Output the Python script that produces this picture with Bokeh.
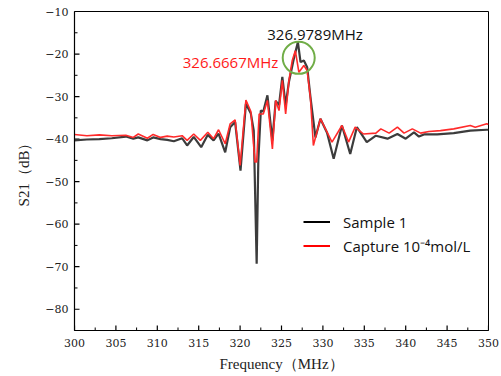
import numpy as np
from bokeh.plotting import figure
from bokeh.models import Range1d, Label, Legend, LegendItem, SingleIntervalTicker, CustomJSTickFormatter
from bokeh.embed import file_html
from bokeh.resources import INLINE

# ---- data ----
freq_sample = [300.0, 301.5, 303.0, 304.5, 306.2, 307.1, 307.7, 308.8, 309.5, 310.4, 311.2, 312.0, 313.0, 313.6,
               314.4, 315.3, 316.1, 316.8, 317.4, 318.2, 318.8, 319.4, 320.05, 320.7, 321.3, 321.65, 322.0, 322.2,
               322.5, 322.8, 323.3, 323.9, 324.3, 324.7, 325.1, 325.5, 325.9, 326.5, 326.98, 327.3, 327.7, 328.1,
               328.5, 329.1, 329.7, 330.5, 331.3, 332.3, 333.3, 334.1, 335.3, 336.4, 337.8, 339.0, 340.0, 341.0,
               341.6, 342.2, 343.8, 345.8, 347.8, 349.8, 350.0]
s21_sample = [-40.3, -40.1, -40.0, -39.8, -39.4, -39.9, -39.6, -40.3, -39.6, -40.0, -40.2, -40.5, -39.8, -41.5,
              -39.5, -41.9, -39.0, -40.3, -38.7, -43.1, -37.2, -36.0, -47.4, -31.7, -34.0, -38.0, -69.3, -45.0,
              -33.3, -33.5, -29.7, -40.3, -31.0, -32.0, -25.4, -32.1, -26.5, -21.0, -17.2, -21.9, -21.5, -23.1,
              -30.2, -39.6, -35.2, -38.5, -44.6, -36.8, -43.5, -37.2, -40.7, -39.2, -39.9, -38.8, -39.9, -38.4,
              -39.4, -38.9, -38.9, -38.6, -38.0, -37.8, -37.8]

freq_capture = [300.0, 301.5, 303.0, 304.5, 306.2, 307.1, 307.7, 308.8, 309.5, 310.4, 311.2, 312.0, 313.0, 313.6,
                314.4, 315.2, 316.1, 316.8, 317.4, 318.2, 318.8, 319.4, 320.0, 320.7, 321.3, 321.8, 322.0, 322.3,
                322.8, 323.3, 323.9, 324.3, 324.7, 325.1, 325.5, 325.9, 326.3, 326.67, 327.1, 327.7, 328.1, 328.5,
                328.85, 329.7, 331.1, 332.3, 333.1, 333.9, 334.9, 336.4, 337.0, 338.0, 339.0, 339.8, 340.8, 341.8,
                342.8, 344.2, 345.8, 347.8, 348.4, 349.8, 350.0]
s21_capture = [-38.9, -39.2, -39.0, -39.2, -39.1, -39.6, -38.8, -39.8, -38.9, -39.6, -39.3, -39.5, -39.2, -40.3,
               -38.8, -40.3, -38.4, -39.9, -37.8, -41.1, -36.4, -35.5, -46.2, -30.8, -33.5, -45.4, -45.4, -34.1,
               -34.1, -30.9, -42.3, -30.9, -33.3, -26.2, -34.1, -26.2, -21.5, -19.2, -24.3, -22.7, -23.9, -30.5,
               -41.5, -35.2, -40.7, -36.8, -40.7, -37.2, -38.8, -38.6, -37.6, -38.6, -37.2, -38.6, -37.6, -38.6,
               -38.2, -38.0, -37.6, -36.8, -37.2, -36.4, -36.6]

peak_sample_freq = 326.9789
peak_sample_db = -17.2
peak_capture_freq = 326.6667
peak_capture_db = -19.2

series_names = ["Sample 1", "Capture 10\u207b\u2074mol/L"]

X_MIN, X_MAX, Y_MIN, Y_MAX = 300, 350, -85, -10
FRAME_W, FRAME_H = 414, 319

# ---- figure ----
p = figure(width=501, height=376, frame_width=FRAME_W, frame_height=FRAME_H,
           x_range=Range1d(X_MIN, X_MAX), y_range=Range1d(Y_MIN, Y_MAX),
           output_backend="svg", toolbar_location=None,
           min_border_left=74, min_border_right=13, min_border_top=11, min_border_bottom=46)
p.grid.visible = False
p.outline_line_color = "black"
p.outline_line_width = 1
p.background_fill_color = "white"
p.border_fill_color = "white"

minus_fmt = CustomJSTickFormatter(code="return String(tick).replace('-', '\u2212');")

p.xaxis.ticker = SingleIntervalTicker(interval=5, num_minor_ticks=0)
p.yaxis.ticker = SingleIntervalTicker(interval=10, num_minor_ticks=0)
p.yaxis.formatter = minus_fmt
for ax in (p.xaxis, p.yaxis):
    ax.axis_line_color = "black"
    ax.axis_line_width = 1.2
    ax.major_tick_out = 0
    ax.major_tick_in = 0
    ax.minor_tick_out = 0
    ax.minor_tick_in = 0
    ax.major_label_text_font = "DejaVu Serif"
    ax.major_label_text_font_size = "11px"
    ax.major_label_text_color = "#222222"
    ax.axis_label_text_font = "Liberation Serif"
    ax.axis_label_text_font_size = "15px"
    ax.axis_label_text_font_style = "normal"
    ax.axis_label_text_color = "#222222"

p.xaxis.axis_label = "Frequency\uff08MHz\uff09"
p.yaxis.axis_label = "S21\uff08dB\uff09"
p.xaxis.major_label_standoff = 8
p.yaxis.major_label_standoff = 6
p.xaxis.axis_label_standoff = 6
p.yaxis.axis_label_standoff = 10

# inward ticks (drawn inside the frame, lengths converted from pixels)
px_x = (X_MAX - X_MIN) / FRAME_W
px_y = (Y_MAX - Y_MIN) / FRAME_H
xt_major = np.arange(X_MIN, X_MAX + 0.01, 5.0)
xt_minor = np.arange(X_MIN + 2.5, X_MAX, 5.0)
yt_major = np.arange(-80, Y_MAX + 0.01, 10.0)
yt_minor = np.arange(Y_MIN, Y_MAX, 10.0)
tick_kw = dict(line_color="black")
p.segment(xt_major, Y_MIN, xt_major, Y_MIN + 5 * px_y, line_width=1.2, **tick_kw)
p.segment(xt_minor, Y_MIN, xt_minor, Y_MIN + 3 * px_y, line_width=1, **tick_kw)
p.segment(X_MIN, yt_major, X_MIN + 5 * px_x, yt_major, line_width=1.2, **tick_kw)
p.segment(X_MIN, yt_minor, X_MIN + 3 * px_x, yt_minor, line_width=1, **tick_kw)

r1 = p.line(freq_sample, s21_sample, line_color="#3c3c3c", line_width=2.2)
r2 = p.line(freq_capture, s21_capture, line_color="#ff2a2a", line_width=1.6)

# peak circle
p.scatter([peak_sample_freq + 0.1], [peak_sample_db - 3.7], marker="circle", size=32,
          fill_alpha=0, line_color="#70ad47", line_width=2)

p.add_layout(Label(x=peak_sample_freq - 3.7, y=-15.3, text=f"{peak_sample_freq:.4f}MHz",
                   text_font="Open Sans", text_font_size="15px", text_color="#111111",
                   text_align="left", text_baseline="middle"))
p.add_layout(Label(x=peak_capture_freq - 2.05, y=-21.9, text=f"{peak_capture_freq:.4f}MHz",
                   text_font="Open Sans", text_font_size="15px", text_color="#ff1a1a",
                   text_align="right", text_baseline="middle"))

# legend (proxy lines placed outside the visible range)
lg1 = p.line([0, 1], [0, 0], line_color="black", line_width=2)
lg2 = p.line([0, 1], [0, 0], line_color="#ff0000", line_width=2)
legend = Legend(items=[LegendItem(label=series_names[0], renderers=[lg1]),
                       LegendItem(label=series_names[1], renderers=[lg2])],
                location=(229, 74), glyph_width=27, glyph_height=21, label_height=21,
                label_standoff=13, spacing=3, padding=0, margin=0,
                label_text_font="Open Sans", label_text_font_size="15px", label_text_color="#111111",
                border_line_alpha=0, background_fill_alpha=0)
p.add_layout(legend)

open("out.html", "w").write(file_html(p, INLINE))
